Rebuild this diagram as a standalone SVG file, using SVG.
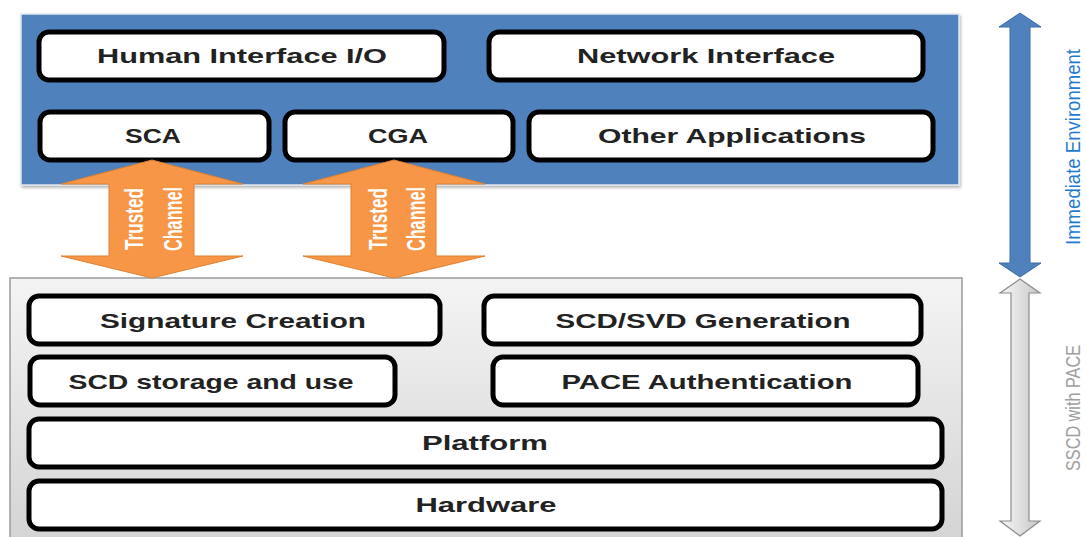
<svg xmlns="http://www.w3.org/2000/svg" width="1086" height="537" viewBox="0 0 1086 537">
<defs>
<linearGradient id="grayBg" x1="0" y1="0" x2="0" y2="1">
<stop offset="0" stop-color="#f4f4f4"/><stop offset="1" stop-color="#d4d4d4"/>
</linearGradient>
<linearGradient id="grayArrow" x1="0" y1="0" x2="1" y2="0">
<stop offset="0" stop-color="#f6f6f6"/><stop offset="0.5" stop-color="#e0e0e0"/><stop offset="1" stop-color="#c4c4c4"/>
</linearGradient>
<filter id="sh" x="-5%" y="-5%" width="110%" height="115%">
<feDropShadow dx="1" dy="2" stdDeviation="1.5" flood-color="#000" flood-opacity="0.3"/>
</filter>
</defs>
<style>
.box{fill:#fff;stroke:#000;stroke-width:5}
.lbl{font-family:"Liberation Sans",Arial,sans-serif;font-weight:bold;font-size:21px;fill:#222;text-anchor:middle}
.tc{font-family:"Liberation Sans",Arial,sans-serif;font-weight:bold;font-size:26px;fill:#fff;text-anchor:middle}
.side{font-family:"Liberation Sans",Arial,sans-serif;font-size:21px;text-anchor:middle}
.orange{fill:#f79646;stroke:#e0802f;stroke-width:1}
</style>

<g id="immediate-environment-panel">
<rect x="21" y="14" width="938" height="171" fill="#4f81bd" stroke="#dfe6f0" stroke-width="1.5" filter="url(#sh)"/>
</g>
<g id="sscd-panel">
<rect x="10" y="278" width="952" height="262" fill="url(#grayBg)" stroke="#9a9a9a" stroke-width="1.5"/>
</g>

<g id="human-interface"><rect class="box" x="39" y="32" width="405" height="48" rx="10"/><text class="lbl" x="242" y="63" textLength="290" lengthAdjust="spacingAndGlyphs">Human Interface I/O</text></g>
<g id="network-interface"><rect class="box" x="489" y="32" width="434" height="48" rx="10"/><text class="lbl" x="706" y="63" textLength="258" lengthAdjust="spacingAndGlyphs">Network Interface</text></g>
<g id="sca"><rect class="box" x="40" y="112" width="229" height="48" rx="10"/><text class="lbl" x="153" y="143" textLength="56" lengthAdjust="spacingAndGlyphs">SCA</text></g>
<g id="cga"><rect class="box" x="285" y="112" width="228" height="48" rx="10"/><text class="lbl" x="398" y="143" textLength="60" lengthAdjust="spacingAndGlyphs">CGA</text></g>
<g id="other-applications"><rect class="box" x="529" y="112" width="404" height="48" rx="10"/><text class="lbl" x="732" y="143" textLength="268" lengthAdjust="spacingAndGlyphs">Other Applications</text></g>

<g id="signature-creation"><rect class="box" x="29" y="296" width="411" height="48" rx="10"/><text class="lbl" x="233" y="328" textLength="266" lengthAdjust="spacingAndGlyphs">Signature Creation</text></g>
<g id="scd-svd-generation"><rect class="box" x="484" y="296" width="437" height="48" rx="10"/><text class="lbl" x="703" y="328" textLength="295" lengthAdjust="spacingAndGlyphs">SCD/SVD Generation</text></g>
<g id="scd-storage"><rect class="box" x="30" y="357" width="365" height="48" rx="10"/><text class="lbl" x="211" y="389" textLength="285" lengthAdjust="spacingAndGlyphs">SCD storage and use</text></g>
<g id="pace-authentication"><rect class="box" x="493" y="357" width="425" height="48" rx="10"/><text class="lbl" x="707" y="389" textLength="291" lengthAdjust="spacingAndGlyphs">PACE Authentication</text></g>
<g id="platform"><rect class="box" x="29" y="419" width="913" height="48" rx="10"/><text class="lbl" x="485" y="450" textLength="126" lengthAdjust="spacingAndGlyphs">Platform</text></g>
<g id="hardware"><rect class="box" x="29" y="481" width="913" height="48" rx="10"/><text class="lbl" x="486" y="512" textLength="141" lengthAdjust="spacingAndGlyphs">Hardware</text></g>

<g id="connectors">
<g id="trusted-channel-1">
<path class="orange" d="M152,160 L243,184 L194,184 L194,256 L243,256 L152,278 L61,256 L109,256 L109,184 L61,184 Z"/>
<text class="tc" transform="translate(143,219) rotate(-90)" textLength="62" lengthAdjust="spacingAndGlyphs">Trusted</text>
<text class="tc" transform="translate(182,219) rotate(-90)" textLength="64" lengthAdjust="spacingAndGlyphs">Channel</text>
</g>
<g id="trusted-channel-2">
<path class="orange" d="M394,160 L485,184 L436,184 L436,256 L485,256 L394,278 L303,256 L351,256 L351,184 L303,184 Z"/>
<text class="tc" transform="translate(387,219) rotate(-90)" textLength="62" lengthAdjust="spacingAndGlyphs">Trusted</text>
<text class="tc" transform="translate(425,219) rotate(-90)" textLength="64" lengthAdjust="spacingAndGlyphs">Channel</text>
</g>
<g id="immediate-environment-arrow">
<path d="M1020,13 L1041,27 L1030,27 L1030,263 L1041,263 L1020,277 L999,263 L1010,263 L1010,27 L999,27 Z" fill="#4f81bd" stroke="#3a6ca8" stroke-width="1"/>
</g>
<g id="sscd-arrow">
<path d="M1020,279 L1040,293 L1029,293 L1029,521 L1040,521 L1020,536 L1000,521 L1011,521 L1011,293 L1000,293 Z" fill="url(#grayArrow)" stroke="#8c8c8c" stroke-width="1.2"/>
</g>
</g>

<g id="side-labels">
<text class="side" transform="translate(1080,147) rotate(-90)" fill="#1f7ad0" textLength="196" lengthAdjust="spacingAndGlyphs">Immediate Environment</text>
<text class="side" transform="translate(1080,408) rotate(-90)" fill="#a0a0a0" textLength="126" lengthAdjust="spacingAndGlyphs">SSCD with PACE</text>
</g>
</svg>
